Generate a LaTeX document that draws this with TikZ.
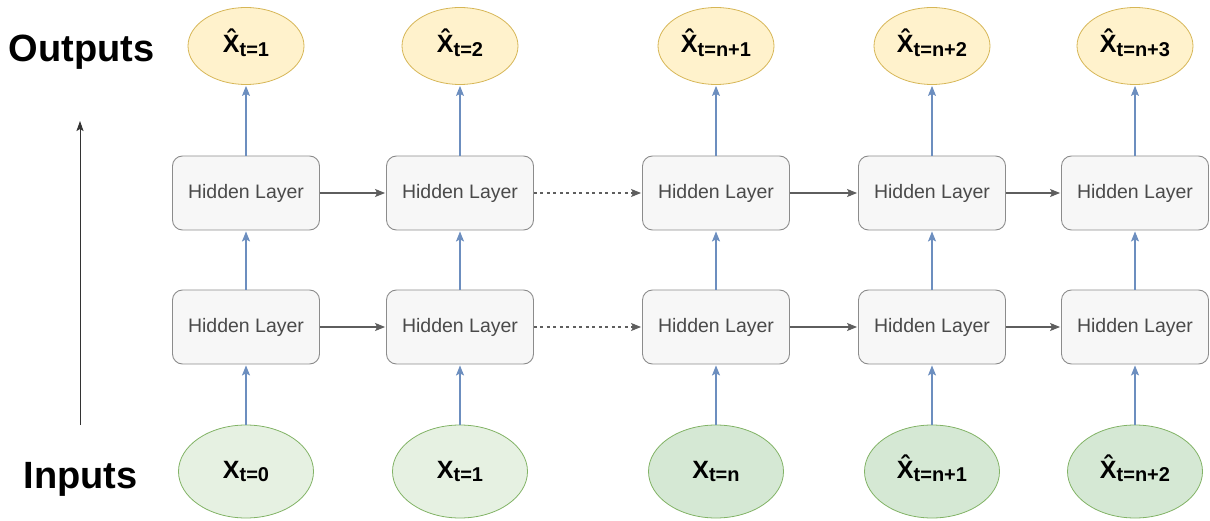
\documentclass[tikz,border=0pt]{standalone}
\usepackage{fontspec}
\setmainfont{Liberation Sans}
\usetikzlibrary{arrows.meta,shapes.geometric}

\definecolor{outfill}{HTML}{FFF2CC}
\definecolor{outline}{HTML}{D6B656}
\definecolor{infill}{HTML}{D5E8D4}
\definecolor{infillpale}{HTML}{E6F1E2}
\definecolor{inline}{HTML}{82B366}
\definecolor{hidfill}{HTML}{F7F7F7}
\definecolor{hidline}{HTML}{8C8C8C}
\definecolor{hidtext}{HTML}{4A4A4A}
\definecolor{upblue}{HTML}{6C8EBF}
\definecolor{flowgray}{HTML}{5E5E5E}

% variable with a hat, and a variable with a subscript
\newcommand\hatvar{\ooalign{X\cr\hidewidth\raisebox{0.2em}{ˆ}\hidewidth\cr}}
\newcommand\varlabel[2]{{\fontsize{25}{30}\selectfont\bfseries #1}%
  \raisebox{-3.5pt}{\fontsize{20}{22}\selectfont\bfseries #2}}

\tikzset{
  hidden/.style={draw=hidline, fill=hidfill, line width=0.9pt, rounded corners=10pt,
    minimum width=147pt, minimum height=74pt, inner sep=0pt,
    text=hidtext, font=\fontsize{19.5}{22}\selectfont},
  outvar/.style={ellipse, draw=outline, fill=outfill, line width=0.8pt,
    minimum width=116pt, minimum height=77pt, inner sep=0pt},
  invar/.style={ellipse, draw=inline, fill=infill, line width=0.8pt,
    minimum width=135pt, minimum height=93pt, inner sep=0pt},
  invarpale/.style={invar, fill=infillpale},
  uparrow/.style={draw=upblue, line width=1.1pt,
    -{Stealth[length=10pt,width=8pt,inset=2pt]}, shorten >=1pt},
  flow/.style={draw=flowgray, line width=1.1pt,
    -{Stealth[length=10pt,width=8pt,inset=2pt]}, shorten >=1pt},
  skipflow/.style={flow, dash pattern=on 3pt off 3.5pt},
  heading/.style={anchor=base, font=\fontsize{38}{44}\selectfont\bfseries},
}

\begin{document}
\begin{tikzpicture}[x=1pt, y=-1pt]
\useasboundingbox (0,0) rectangle (1210,521);

% headings and the direction arrow between them
\node[heading] (outhead) at (81.5,62) {Outputs};
\node[heading] (inhead) at (80.5,488) {Inputs};
\coordinate (dirlow) at (80,425);
\coordinate (dirhigh) at (80,121);
\draw[draw=black!80, line width=0.9pt, -{Stealth[length=10pt,width=7pt,inset=2pt]}] (dirlow) -- (dirhigh);

% outputs
\node[outvar] (o1) at (246,46) {\varlabel{\hatvar}{t=1}};
\node[outvar] (o2) at (460,46) {\varlabel{\hatvar}{t=2}};
\node[outvar] (o3) at (716,46) {\varlabel{\hatvar}{t=n+1}};
\node[outvar] (o4) at (932,46) {\varlabel{\hatvar}{t=n+2}};
\node[outvar] (o5) at (1135,46) {\varlabel{\hatvar}{t=n+3}};

% upper hidden layer
\node[hidden] (u1) at (246,193) {Hidden Layer};
\node[hidden] (u2) at (460,193) {Hidden Layer};
\node[hidden] (u3) at (716,193) {Hidden Layer};
\node[hidden] (u4) at (932,193) {Hidden Layer};
\node[hidden] (u5) at (1135,193) {Hidden Layer};

% lower hidden layer
\node[hidden] (l1) at (246,327) {Hidden Layer};
\node[hidden] (l2) at (460,327) {Hidden Layer};
\node[hidden] (l3) at (716,327) {Hidden Layer};
\node[hidden] (l4) at (932,327) {Hidden Layer};
\node[hidden] (l5) at (1135,327) {Hidden Layer};

% inputs
\node[invarpale] (i1) at (246,471.5) {\varlabel{X}{t=0}};
\node[invarpale] (i2) at (460,471.5) {\varlabel{X}{t=1}};
\node[invar] (i3) at (716,471.5) {\varlabel{X}{t=n}};
\node[invar] (i4) at (932,471.5) {\varlabel{\hatvar}{t=n+1}};
\node[invar] (i5) at (1135,471.5) {\varlabel{\hatvar}{t=n+2}};

% vertical connections
\foreach \k in {1,...,5} {
  \draw[uparrow] (i\k) -- (l\k);
  \draw[uparrow] (l\k) -- (u\k);
  \draw[uparrow] (u\k) -- (o\k);
}

% recurrent connections through time
\foreach \r in {u,l} {
  \draw[flow] (\r1) -- (\r2);
  \draw[skipflow] (\r2) -- (\r3);
  \draw[flow] (\r3) -- (\r4);
  \draw[flow] (\r4) -- (\r5);
}
\end{tikzpicture}
\end{document}
